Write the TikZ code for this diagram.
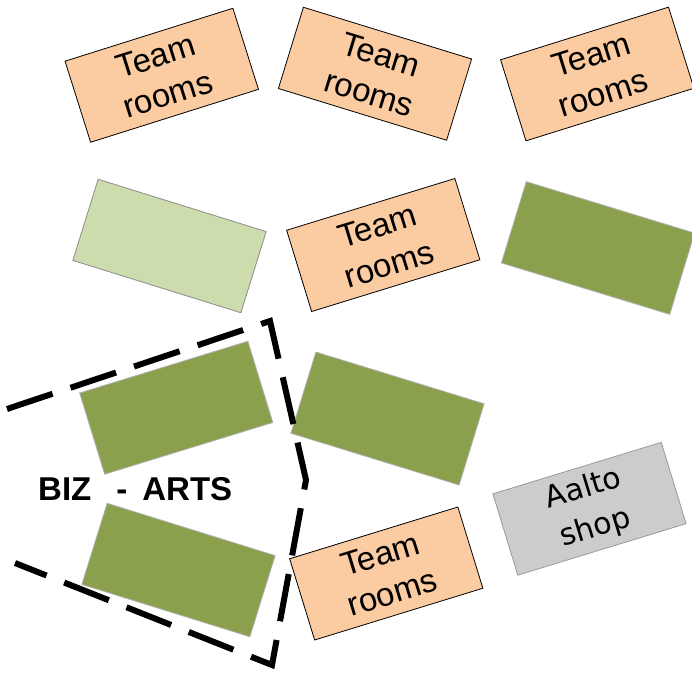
\documentclass[tikz,border=0pt]{standalone}
\usepackage{fontspec}
\setmainfont{Liberation Sans}
\newfontfamily\shopfont{DejaVu Sans}
\definecolor{peach}{HTML}{FBCBA1}
\definecolor{lightolive}{HTML}{CDDCAC}
\definecolor{olive}{HTML}{8AA04D}
\definecolor{shopgray}{HTML}{CCCCCC}
\tikzset{
  room/.style={rectangle, minimum width=176pt, minimum height=85pt, inner sep=0pt,
    align=center, font=\fontsize{33}{40}\selectfont, line width=0.8pt},
  team/.style={room, fill=peach, draw=black},
  lgreen/.style={room, fill=lightolive, draw=gray!90},
  dgreen/.style={room, fill=olive, draw=gray!60},
  shop/.style={room, fill=shopgray, draw=gray!80, font=\shopfont\fontsize{30}{41}\selectfont},
  zone/.style={line width=6pt, dash pattern=on 48pt off 19pt},
}
\begin{document}
\begin{tikzpicture}[x=1pt,y=-1pt]
\useasboundingbox (0,0) rectangle (692,672);
\node[team, rotate=17.5] (t1) at (161.75,75.25) {Team\\rooms};
\node[team, rotate=-17.1] (t2) at (375,73.75) {Team\\rooms};
\node[team, rotate=17.4] (t3) at (597.25,74) {Team\\rooms};
\node[lgreen, rotate=-17.3] (g1) at (169.5,246) {};
\node[team, rotate=17.1] (t4) at (383.25,245) {Team\\rooms};
\node[dgreen, rotate=-17] (g2) at (598,248) {};
\node[dgreen, rotate=17.1] (g3) at (176.25,407.75) {};
\node[dgreen, rotate=-17.3] (g4) at (178.5,570) {};
\node[dgreen, rotate=-17.1] (g5) at (387.5,418.5) {};
\node[team, rotate=17.1] (t5) at (386.25,573.5) {Team\\rooms};
\node[shop, rotate=17] (s1) at (589.5,508.75) {Aalto\\shop};
\node[anchor=base west, inner sep=0pt, font=\fontsize{33}{36}\selectfont\bfseries] (biz) at (38,500) {BIZ\hspace{25pt}-\hspace{15pt}ARTS};
\coordinate (z1) at (7,409);
\coordinate (z2) at (270,321);
\coordinate (z3) at (306,480);
\coordinate (z4) at (272,665);
\coordinate (z5) at (15,563);
\draw[zone] (z1) -- (z2) -- (z3) -- (z4) -- (z5);
\end{tikzpicture}
\end{document}
